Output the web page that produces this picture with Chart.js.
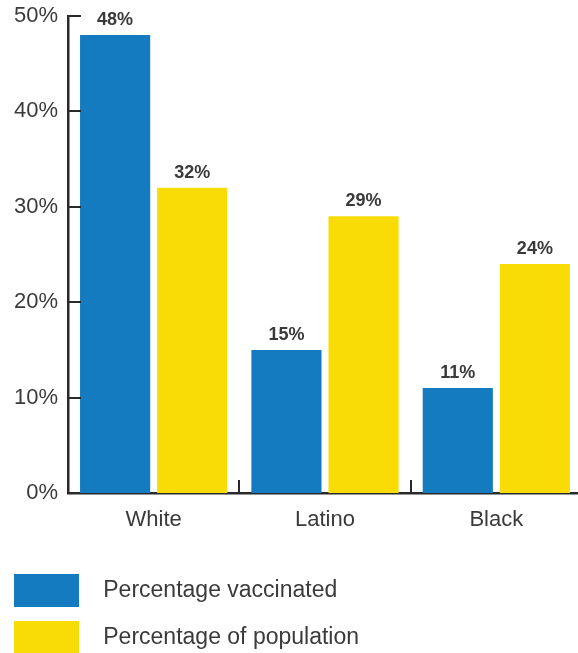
<!DOCTYPE html>
<html>
<head>
<meta charset="utf-8">
<script src="https://cdn.jsdelivr.net/npm/chart.js@4.4.1/dist/chart.umd.min.js"></script>
<style>
  html, body { margin: 0; padding: 0; background: #fff; overflow: hidden; }
  #wrap { width: 582px; height: 664px; }
</style>
</head>
<body>
<div id="wrap"><canvas id="grafico"></canvas></div>
<script>
// dados
const categorias = ['White', 'Latino', 'Black'];
const vacinados = [48, 15, 11];
const populacao = [32, 29, 24];
const nomesSeries = ['Percentage vaccinated', 'Percentage of population'];
const ticksY = [0, 10, 20, 30, 40, 50];

const corTexto = '#3a3a3a';
const corEixo = '#2a2a2a';
const fonte = "'Liberation Sans', Arial, Helvetica, sans-serif";

// rotulos de valor acima das barras
const rotulosPlugin = {
    id: 'rotulos',
    afterDatasetsDraw(chart) {
        const ctx = chart.ctx;
        ctx.save();
        ctx.font = 'bold 18px ' + fonte;
        ctx.fillStyle = corTexto;
        ctx.textAlign = 'center';
        ctx.textBaseline = 'bottom';
        chart.data.datasets.forEach((ds, i) => {
            chart.getDatasetMeta(i).data.forEach((bar, j) => {
                ctx.fillText(ds.data[j] + '%', bar.x, bar.y - 6);
            });
        });
        ctx.restore();
    }
};

// marcas dos eixos voltadas para dentro
const marcasPlugin = {
    id: 'marcas',
    afterDatasetsDraw(chart) {
        const ctx = chart.ctx;
        const x = chart.scales.x;
        const y = chart.scales.y;
        const area = chart.chartArea;
        ctx.save();
        ctx.strokeStyle = corEixo;
        ctx.lineWidth = 2;
        ctx.beginPath();
        ticksY.forEach(v => {
            if (v === 0) return;
            const py = Math.round(y.getPixelForValue(v));
            ctx.moveTo(area.left, py);
            ctx.lineTo(area.left + 13, py);
        });
        for (let i = 1; i < categorias.length; i++) {
            const px = Math.round((x.getPixelForValue(i - 1) + x.getPixelForValue(i)) / 2);
            ctx.moveTo(px, area.bottom);
            ctx.lineTo(px, area.bottom - 13);
        }
        ctx.stroke();
        ctx.restore();
    }
};

const grafico = document.getElementById('grafico').getContext('2d');

new Chart(grafico, {
    type: 'bar',
    data: {
        labels: categorias,
        datasets: [{
            label: nomesSeries[0],
            data: vacinados,
            backgroundColor: '#147bc0',
            borderWidth: 0
        }, {
            label: nomesSeries[1],
            data: populacao,
            backgroundColor: '#f9dc06',
            borderWidth: 0
        }]
    },
    options: {
        responsive: true,
        maintainAspectRatio: false,
        animation: false,
        categoryPercentage: 0.9,
        barPercentage: 0.91,
        layout: { padding: { top: 16, left: 0, right: 0, bottom: 0 } },
        scales: {
            x: {
                grid: { display: false, drawTicks: false },
                border: { display: true, color: corEixo, width: 2.5 },
                ticks: { color: corTexto, font: { family: fonte, size: 22 }, padding: 14 },
                afterFit(s) { s.height = 67; }
            },
            y: {
                min: 0,
                max: 50,
                afterBuildTicks(s) { s.ticks = ticksY.map(v => ({ value: v })); },
                grid: { display: false, drawTicks: false },
                border: { display: true, color: corEixo, width: 2.5 },
                ticks: {
                    color: corTexto,
                    font: { family: fonte, size: 22 },
                    padding: 10,
                    callback: v => v + '%'
                },
                afterFit(s) {
                    s.width = 68;
                    s.paddingTop = 0;
                    s.paddingBottom = 0;
                }
            }
        },
        plugins: {
            tooltip: { enabled: false },
            legend: {
                position: 'bottom',
                align: 'start',
                labels: {
                    boxWidth: 65,
                    boxHeight: 33,
                    padding: 14,
                    color: corTexto,
                    font: { family: fonte, size: 23 },
                    generateLabels(chart) {
                        const itens = Chart.defaults.plugins.legend.labels.generateLabels(chart);
                        itens.forEach(it => { it.text = '  ' + it.text; it.lineWidth = 0; });
                        return itens;
                    }
                }
            }
        }
    },
    plugins: [rotulosPlugin, marcasPlugin]
});
</script>
</body>
</html>
